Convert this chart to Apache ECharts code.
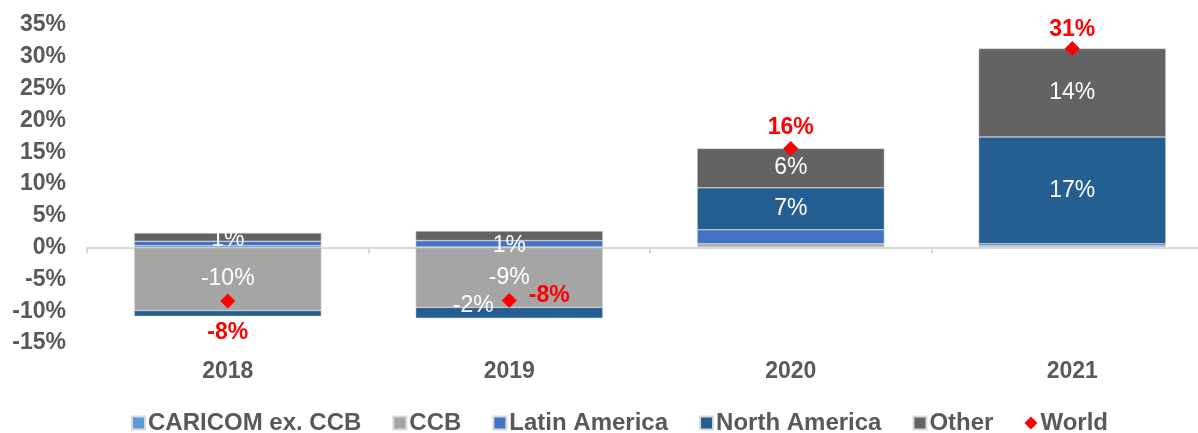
<!DOCTYPE html>
<html>
<head>
<meta charset="utf-8">
<script src="https://cdn.jsdelivr.net/npm/echarts@6/dist/echarts.min.js"></script>
<style>
    html, body {margin: 0; padding: 0; background: #fff; overflow: hidden;}
    /* plot area runs slightly past the right edge in the original */
    #chart {width: 1215px; height: 433px;}
</style>
</head>
<body>
<div id="chart"></div>
<script>
// contributions to growth, percentage points
const years = ['2018', '2019', '2020', '2021'];
const caricomExCcb = [0.3, 0.1, 0.1, 0.1];
const ccb = [-9.9, -9.4, 0.5, 0.2];
const latinAmerica = [0.7, 1.0, 2.2, 0.3];
const northAmerica = [-0.9, -1.7, 6.6, 16.8];
const other = [1.3, 1.5, 6.2, 13.9];
const world = [-8.4, -8.3, 15.6, 31.3];
const yTicks = {min: -15, max: 35, step: 5};

const FONT = '"Liberation Sans", Arial, sans-serif';
const GREY = '#595959';

const pct = (v) => Math.round(v) + '%';

// only some segments carry a label in the original
const withLabels = (values, shown, extra) => values.map((v, i) => {
    if (shown.indexOf(i) < 0) return v;
    return {value: v, label: Object.assign({show: true}, (extra && extra[i]) || {})};
});

const barLabel = {
    show: false,
    position: 'inside',
    color: '#fff',
    fontSize: 23,
    fontFamily: FONT,
    formatter: (p) => pct(p.value)
};

const barSeries = (name, color, data) => ({
    name: name,
    type: 'bar',
    stack: 'total',
    barWidth: '66.5%',
    itemStyle: {color: color, borderColor: '#d9d9d9', borderWidth: 0.5},
    label: barLabel,
    data: data
});

const worldPos = [
    {position: 'bottom', distance: 13},
    {position: 'right', distance: 12, offset: [0, -5]},
    {position: 'top', distance: 2},
    {position: 'top', distance: 0}
];

const chart = echarts.init(document.getElementById('chart'));

chart.setOption({
    animation: false,
    textStyle: {fontFamily: FONT},
    grid: {left: 87, right: 2, top: 25, height: 318},
    legend: {
        left: 131,
        top: 411,
        padding: 0,
        itemWidth: 13,
        itemHeight: 13,
        itemGap: 31,
        textStyle: {color: GREY, fontSize: 24, fontWeight: 'bold', fontFamily: FONT, padding: [0, 0, 0, -2]},
        data: [
            {name: 'CARICOM ex. CCB', icon: 'rect'},
            {name: 'CCB', icon: 'rect'},
            {name: 'Latin America', icon: 'rect'},
            {name: 'North America', icon: 'rect'},
            {name: 'Other', icon: 'rect'},
            {name: 'World', icon: 'diamond', itemStyle: {color: '#ff0000'}}
        ]
    },
    xAxis: [{
        type: 'category',
        data: years,
        axisLine: {onZero: true, lineStyle: {color: '#d9d9d9', width: 2}},
        axisTick: {show: true, length: 6, lineStyle: {color: '#d9d9d9', width: 2}},
        axisLabel: {show: false}
    }, {
        type: 'category',
        data: years,
        position: 'bottom',
        axisLine: {show: false, onZero: false},
        axisTick: {show: false},
        axisLabel: {color: GREY, fontSize: 23, fontWeight: 'bold', fontFamily: FONT, margin: 17}
    }],
    yAxis: {
        type: 'value',
        min: yTicks.min,
        max: yTicks.max,
        interval: yTicks.step,
        splitLine: {show: false},
        axisLine: {show: false},
        axisTick: {show: false},
        axisLabel: {
            color: GREY, fontSize: 23, fontWeight: 'bold', fontFamily: FONT, margin: 21,
            formatter: (v) => v + '%'
        }
    },
    series: [
        barSeries('CARICOM ex. CCB', '#5b9bd5', caricomExCcb),
        barSeries('CCB', '#a5a5a5', withLabels(ccb, [0, 1])),
        barSeries('Latin America', '#4472c4', withLabels(latinAmerica, [1], {1: {offset: [0, 2]}})),
        barSeries('North America', '#255e91', withLabels(northAmerica, [1, 2, 3], {1: {offset: [-36, -7]}})),
        barSeries('Other', '#636363', withLabels(other, [0, 2, 3], {0: {offset: [0, 3]}})),
        {
            name: 'World',
            type: 'line',
            symbol: 'diamond',
            symbolSize: 15,
            itemStyle: {color: '#ff0000'},
            lineStyle: {width: 0, opacity: 0},
            z: 5,
            label: {
                show: true,
                color: '#ff0000',
                fontSize: 23,
                fontWeight: 'bold',
                fontFamily: FONT,
                formatter: (p) => pct(p.value)
            },
            data: world.map((v, i) => ({value: v, label: worldPos[i]}))
        }
    ]
});
</script>
</body>
</html>
